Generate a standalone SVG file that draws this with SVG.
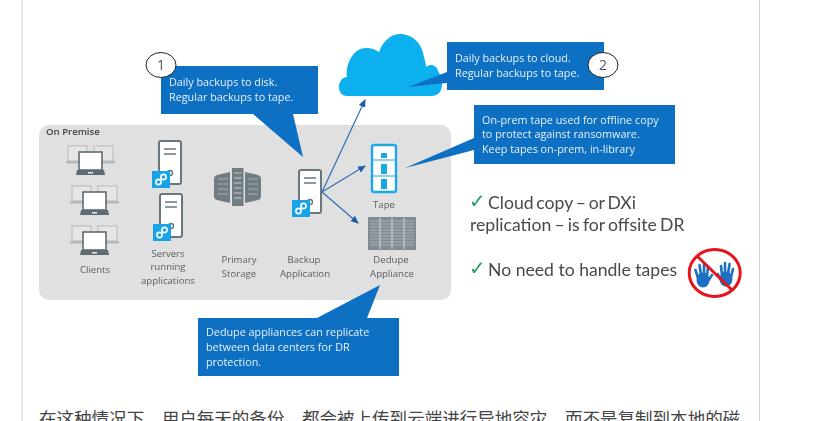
<svg xmlns="http://www.w3.org/2000/svg" width="840" height="421" viewBox="0 0 840 421">
<style>
.lbl{font-family:"Open Sans","Noto Sans",sans-serif;font-size:9.6px;fill:#5a5f63;text-anchor:middle}
.call{font-family:"Open Sans","Noto Sans",sans-serif;font-size:10.8px;fill:#e8f2fb}
.box{fill:#0b6fc2}
.num{font-family:"Open Sans",sans-serif;font-size:14px;fill:#555;text-anchor:middle}
.badge{fill:#ffffff;stroke:#222;stroke-width:1}
.big{font-family:Lato,"Open Sans",sans-serif;font-size:17.6px;fill:#4a4a4a}
.chk{font-family:"DejaVu Sans",sans-serif;font-size:20px;fill:#2f9e62}
.conn{stroke:#2f6fb2;fill:none;stroke-width:1.2;marker-end:url(#ah)}
.finger{stroke:#1d6fc4;stroke-width:2.6;stroke-linecap:round;fill:none}
</style>
<defs>
<filter id="soft" x="-5%" y="-5%" width="110%" height="110%"><feGaussianBlur stdDeviation="0.3"/></filter>
<marker id="ah" markerWidth="8" markerHeight="7" refX="7" refY="3.500" orient="auto" markerUnits="userSpaceOnUse"><path d="M0 0L8 3.500L0 7Z" fill="#1f5fa8"/></marker>
<g id="srv">
<rect x="0" y="0" width="22" height="43" rx="2" fill="#fff" stroke="#6b767d" stroke-width="2"/>
<path d="M5 8H17M5 13H17" stroke="#6b767d" stroke-width="1.600"/>
<circle cx="11" cy="32" r="2.500" fill="none" stroke="#6b767d" stroke-width="1.400"/>
<rect x="-7" y="30" width="18" height="17" fill="#18a4e6"/>
<circle cx="4.500" cy="36" r="2.600" fill="none" stroke="#fff" stroke-width="1.600"/>
<circle cx="-0.500" cy="41" r="2.600" fill="none" stroke="#fff" stroke-width="1.600"/>
</g>
<g id="lap">
<rect x="-22" y="-6" width="19" height="15" fill="#e6e6e6" stroke="#b4b8ba"/>
<rect x="4" y="-6" width="19" height="15" fill="#e6e6e6" stroke="#b4b8ba"/>
<rect x="-24" y="9" width="24" height="2.500" fill="#b4b8ba"/>
<rect x="1" y="9" width="24" height="2.500" fill="#b4b8ba"/>
<rect x="-11" y="0" width="23" height="18" fill="#fff" stroke="#5f6b72" stroke-width="1.600"/>
<path d="M-13 18H14L15 23H-14Z" fill="#5f6b72"/>
<rect x="-2" y="20" width="5" height="1.500" fill="#e8e8e8"/>
</g>
</defs>
<rect width="840" height="421" fill="#fff"/>
<path d="M22 0V421M759.500 0V421" stroke="#c6dcc4" stroke-width="1" fill="none"/>

<g filter="url(#soft)">
<g id="panel">
<rect x="39" y="125" width="412" height="175" rx="10" fill="#e0e0e0"/>
<text x="46" y="135" font-family="Open Sans,sans-serif" font-size="9.600" font-weight="600" fill="#444">On Premise</text>
</g>

<g id="connectors">
<path class="conn" d="M322 192L365 100"/>
<path class="conn" d="M322 192L365 166"/>
<path class="conn" d="M322 192L358 223"/>
</g>

<g id="clients">
<use href="#lap" x="90" y="152"/>
<use href="#lap" x="94" y="192"/>
<use href="#lap" x="94" y="232"/>
<text class="lbl" x="95" y="273">Clients</text>
</g>
<g id="servers">
<use href="#srv" x="159" y="141"/>
<use href="#srv" x="160" y="194"/>
<text class="lbl" x="168" y="257">Servers</text>
<text class="lbl" x="168" y="270">running</text>
<text class="lbl" x="168" y="284">applications</text>
</g>
<g id="primary-storage">
<path d="M230 172V203L217 200Q214 199 214 196V179Q214 176 217 175Z" fill="#6f7b82"/>
<path d="M245 172V203L258 200Q261 199 261 196V179Q261 176 258 175Z" fill="#6f7b82"/>
<rect x="232" y="168" width="11.500" height="38" fill="#6f7b82"/>
<path d="M234 173H241.500M234 178H241.500M234 183H241.500M234 188H241.500M234 193H241.500M234 198H241.500" stroke="#c8cccf" stroke-width="1"/>
<path d="M218 179H228M218 184H228M218 189H228M218 194H228M248 179H258M248 184H258M248 189H258M248 194H258" stroke="#a9b0b4" stroke-width="1"/>
<text class="lbl" x="239" y="263">Primary</text>
<text class="lbl" x="239" y="277">Storage</text>
</g>
<g id="backup-application">
<use href="#srv" x="299" y="170"/>
<text class="lbl" x="304" y="263">Backup</text>
<text class="lbl" x="305" y="277">Application</text>
</g>
<g id="tape">
<rect x="372" y="145" width="24" height="47" rx="2" fill="#fff" stroke="#1ea7e6" stroke-width="2.400"/>
<path d="M372 160H396M372 176H396" stroke="#1ea7e6" stroke-width="1"/>
<rect x="381" y="153" width="6" height="5" fill="#1ea7e6"/>
<rect x="381" y="164" width="6" height="10" fill="#1ea7e6"/>
<rect x="381" y="179" width="6" height="10" fill="#1ea7e6"/>
<text class="lbl" x="384" y="208">Tape</text>
</g>
<g id="dedupe-appliance">
<rect x="368" y="217" width="48" height="33" fill="#808b91"/>
<path d="M380 218V249M392 218V249M404 218V249" stroke="#dcdfe0" stroke-width="1"/>
<path d="M370 221H414M370 224H414M370 227H414M370 230H414M370 233H414M370 236H414M370 239H414M370 242H414M370 245H414" stroke="#b4babd" stroke-width=".8"/>
<text class="lbl" x="391" y="263">Dedupe</text>
<text class="lbl" x="392" y="277">Appliance</text>
</g>
<g id="cloud">
<path d="M347 96C342 96 339 92 339 87C339 81 343 77 347 77C345 65 353 48 366 48C372 48 376 50 379 52C383 41 391 34 400 34C412 34 422 43 424 57C425 61 426 64 426 67C430 63 437 65 438 71C440 74 442 79 442 85C442 92 437 96 432 96Z" fill="#0fb0ee"/>
</g>
<g id="callout-1">
<path class="box" d="M161 66H318V114H293L303 157L253 114H161Z"/>
<text class="call" x="169" y="86">Daily backups to disk.</text>
<text class="call" x="169" y="101">Regular backups to tape.</text>
<ellipse class="badge" cx="161" cy="65" rx="15" ry="12.500"/>
<text class="num" x="161" y="70">1</text>
</g>
<g id="callout-2">
<path class="box" d="M447 42H604V90H447V83L408 87L447 72Z"/>
<text class="call" x="455" y="62">Daily backups to cloud.</text>
<text class="call" x="455" y="77">Regular backups to tape.</text>
<ellipse class="badge" cx="603" cy="65" rx="15" ry="12.500"/>
<text class="num" x="603" y="70">2</text>
</g>
<g id="callout-3">
<path class="box" d="M474 105H675V164H474V150L405 168L474 138Z"/>
<text class="call" x="482" y="124">On-prem tape used for offline copy</text>
<text class="call" x="482" y="138">to protect against ransomware.</text>
<text class="call" x="482" y="153">Keep tapes on-prem, in-library</text>
</g>
<g id="callout-4">
<path class="box" d="M198 318H317L380 285L367 318H399V376H198Z"/>
<text class="call" x="206" y="336">Dedupe appliances can replicate</text>
<text class="call" x="206" y="351">between data centers for DR</text>
<text class="call" x="206" y="366">protection.</text>
</g>
<g id="notes">
<text class="chk" x="469" y="208">✓</text>
<text class="big" x="488" y="209" word-spacing="-1.700">Cloud copy – or DXi</text>
<text class="big" x="470" y="231" word-spacing="-1.300">replication – is for offsite DR</text>
<text class="chk" x="469" y="275">✓</text>
<text class="big" x="488" y="276">No need to handle tapes</text>
</g>
<g id="no-hands">
<ellipse cx="703" cy="280" rx="6.500" ry="7.500" fill="#1d6fc4"/>
<path class="finger" d="M698 278L695.500 270M701 275L699.500 265M704 275L704 264M707 276L708 267M708 281L712 275"/>
<ellipse cx="726" cy="279" rx="6.500" ry="7.500" fill="#1d6fc4"/>
<path class="finger" d="M731 277L733 269M728 274L729.500 264M725 274L725 263M722 275L721 266M721 280L717.500 274"/>
<ellipse cx="714.700" cy="273" rx="25.500" ry="23.500" fill="none" stroke="#e3141e" stroke-width="3"/>
<path d="M697 256L732 290" stroke="#e3141e" stroke-width="3"/>
</g>
</g>
<text x="39" y="425" font-family="Noto Sans CJK SC,sans-serif" font-size="17.550" fill="#444">在这种情况下，用户每天的备份，都会被上传到云端进行异地容灾，而不是复制到本地的磁</text>
</svg>
